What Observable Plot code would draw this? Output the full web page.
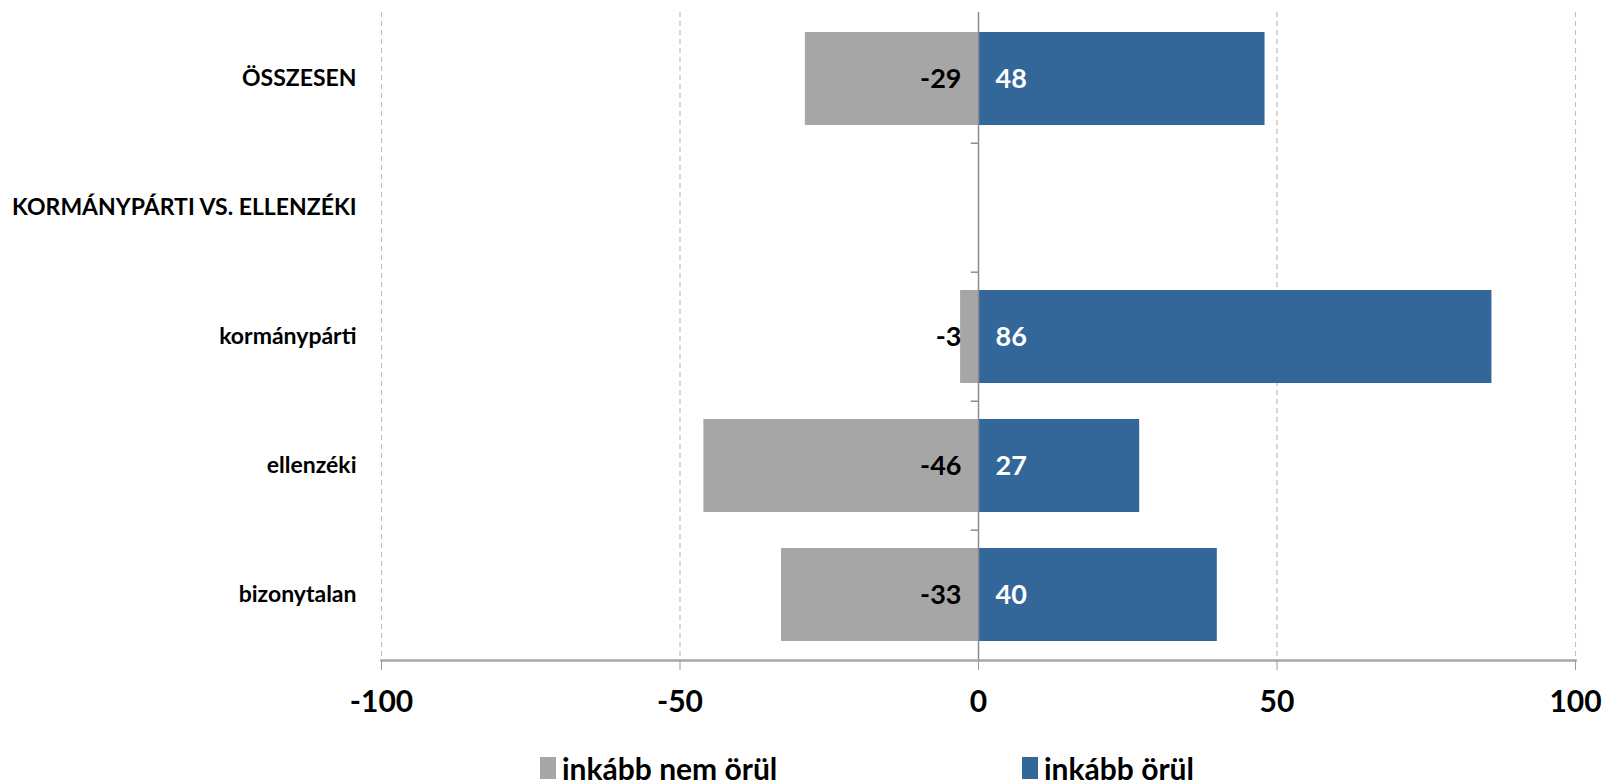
<!DOCTYPE html>
<html><head><meta charset="utf-8">
<script src="https://cdn.jsdelivr.net/npm/d3@7"></script>
<script src="https://cdn.jsdelivr.net/npm/@observablehq/plot@0.6"></script>
<style>
body{margin:0;background:#fff;font-family:Lato,"Open Sans",sans-serif;overflow:hidden;}
#legend{height:53px;font-weight:bold;font-size:30px;color:#000;position:relative;}
.item{position:absolute;top:20px;display:flex;align-items:center;}
.sw{width:16px;height:22px;margin-right:6px;}
</style></head><body>
<div id="chart"></div>
<div id="legend"></div>
<script>
const categories = ["ÖSSZESEN","KORMÁNYPÁRTI VS. ELLENZÉKI","kormánypárti","ellenzéki","bizonytalan"];
const negValues = [-29, null, -3, -46, -33];
const posValues = [48, null, 86, 27, 40];
const xTicks = [-100, -50, 0, 50, 100];
const seriesNames = ["inkább nem örül","inkább örül"];
const colors = ["#a6a6a6","#336799"];

const rows = categories.map((c,i)=>({cat:c, neg:negValues[i], pos:posValues[i]})).filter(d=>d.neg!=null);
const font = "Lato, 'Open Sans', sans-serif";

const chart = Plot.plot({
  width: 1603, height: 730,
  marginLeft: 381, marginRight: 28, marginTop: 12, marginBottom: 70,
  style: {fontFamily: font, background: "#fff"},
  x: {domain: [-100, 100], ticks: xTicks},
  y: {domain: categories, paddingInner: 0.28, paddingOuter: 0.14, label: null},
  marks: [
    Plot.ruleX(xTicks.filter(d=>d!==0), {stroke:"#bfbfbf", strokeDasharray:"5,4", strokeWidth:1.2}),
    Plot.barX(rows, {y:"cat", x1:0, x2:"neg", fill: colors[0]}),
    Plot.barX(rows, {y:"cat", x1:0, x2:"pos", fill: colors[1]}),
    Plot.ruleX([0], {stroke:"#8c8c8c", strokeWidth:1.5}),
    Plot.ruleY(categories.slice(1), {y:d=>d, x1:-1.2, x2:0, dy:-64.8, stroke:"#8c8c8c", strokeWidth:1.5}),
    Plot.frame({anchor:"bottom", stroke:"#a6a6a6", strokeWidth:2.5}),
    Plot.text(rows, {y:"cat", x:0, text:d=>String(d.neg), textAnchor:"end", dx:-17, fill:"#000", fontSize:27, fontWeight:"bold"}),
    Plot.text(rows, {y:"cat", x:0, text:d=>String(d.pos), textAnchor:"start", dx:17, fill:"#fff", fontSize:27, fontWeight:"bold"}),
    Plot.axisX({ticks: xTicks, tickSize: 10, tickPadding: 20, stroke:"#999", fontSize: 30, fontWeight:"bold", fill:"#000", tickFormat: d=>String(d), label:null}),
    Plot.axisY({tickSize: 0, tickPadding: 25, fontSize: 23, fontWeight:"bold", fill:"#000", label:null})
  ]
});
document.getElementById("chart").appendChild(chart);

const leg = document.getElementById("legend");
const positions = [540, 1022];
seriesNames.forEach((n,i)=>{
  const it = document.createElement("div"); it.className="item"; it.style.left = positions[i]+"px";
  const sw = document.createElement("div"); sw.className="sw"; sw.style.background = colors[i];
  const t = document.createElement("span"); t.textContent = n;
  it.appendChild(sw); it.appendChild(t); leg.appendChild(it);
});
</script>
</body></html>
